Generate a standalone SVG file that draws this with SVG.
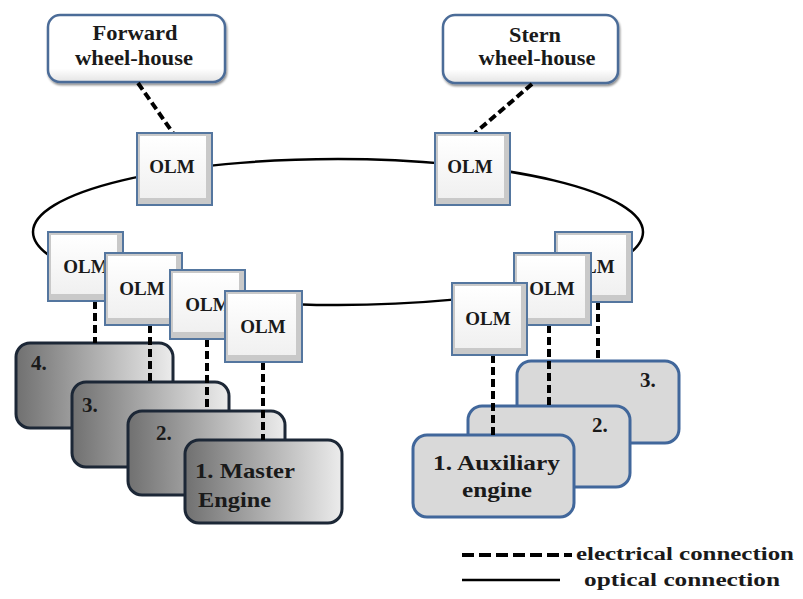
<svg xmlns="http://www.w3.org/2000/svg" width="803" height="599" viewBox="0 0 803 599">
<defs>
<linearGradient id="gDark" x1="0" y1="0" x2="1" y2="0">
<stop offset="0" stop-color="#707070"/><stop offset="1" stop-color="#ececec"/>
</linearGradient>
<linearGradient id="gFace" x1="0" y1="0" x2="0" y2="1">
<stop offset="0" stop-color="#ffffff"/><stop offset="1" stop-color="#f0f0f0"/>
</linearGradient>
<linearGradient id="gTop" x1="0" y1="0" x2="0" y2="1">
<stop offset="0" stop-color="#ffffff"/><stop offset="0.8" stop-color="#ffffff"/><stop offset="1" stop-color="#e4e4e4"/>
</linearGradient>
<filter id="sh" x="-10%" y="-10%" width="130%" height="140%">
<feDropShadow dx="1" dy="2" stdDeviation="1.2" flood-color="#000" flood-opacity="0.45"/>
</filter>
</defs>
<style>
text{font-family:"Liberation Serif","Times New Roman",serif;font-weight:bold;fill:#1a1a1a}
.wh{fill:url(#gTop);stroke:#4c6c98;stroke-width:2.5;filter:url(#sh)}
.olmO{fill:#c9c9c9;stroke:#54769f;stroke-width:2}
.olmF{fill:url(#gFace)}
.olmT{font-size:19px;text-anchor:middle}
.eng{fill:url(#gDark);stroke:#1c2736;stroke-width:3}
.aux{fill:#d9d9d9;stroke:#41679b;stroke-width:3}
.et{font-size:21px}
.elec{fill:none;stroke:#000;stroke-width:4;stroke-dasharray:8 4}
.opt{fill:none;stroke:#000;stroke-width:2.5}
.lg{font-size:18px}
</style>

<!-- engine boxes (left, back to front) -->
<g id="engine4"><rect class="eng" x="16" y="343" width="157" height="85" rx="14"/><text class="et" x="31" y="370">4.</text></g>
<g id="engine3"><rect class="eng" x="72" y="382" width="157" height="85" rx="14"/><text class="et" x="82" y="412">3.</text></g>
<g id="engine2"><rect class="eng" x="128" y="411" width="157" height="84" rx="14"/><text class="et" x="156" y="440">2.</text></g>
<g id="engine1"><rect class="eng" x="185" y="440" width="157" height="83" rx="14"/>
<text class="et" x="195" y="478" textLength="100" lengthAdjust="spacingAndGlyphs">1. Master</text>
<text class="et" x="198" y="507" textLength="73" lengthAdjust="spacingAndGlyphs">Engine</text></g>

<!-- auxiliary engine boxes (right, back to front) -->
<g id="aux3"><rect class="aux" x="517" y="361" width="162" height="82" rx="14"/><text class="et" x="640" y="387">3.</text></g>
<g id="aux2"><rect class="aux" x="468" y="406" width="162" height="81" rx="14"/><text class="et" x="592" y="432">2.</text></g>
<g id="aux1"><rect class="aux" x="413" y="435" width="161" height="82" rx="14"/>
<text class="et" x="433" y="470" textLength="127" lengthAdjust="spacingAndGlyphs">1. Auxiliary</text>
<text class="et" x="462" y="497" textLength="70" lengthAdjust="spacingAndGlyphs">engine</text></g>

<!-- wheel-houses -->
<g id="forward"><rect class="wh" x="48" y="15" width="177" height="67" rx="12"/>
<text x="135" y="40" font-size="20" text-anchor="middle" textLength="85" lengthAdjust="spacingAndGlyphs">Forward</text>
<text x="134" y="65" font-size="20" text-anchor="middle" textLength="118" lengthAdjust="spacingAndGlyphs">wheel-house</text></g>
<g id="stern"><rect class="wh" x="443" y="15" width="175" height="68" rx="12"/>
<text x="535" y="42" font-size="20" text-anchor="middle" textLength="52" lengthAdjust="spacingAndGlyphs">Stern</text>
<text x="537" y="65" font-size="20" text-anchor="middle" textLength="117" lengthAdjust="spacingAndGlyphs">wheel-house</text></g>

<!-- connectors -->
<g id="connectors">
<ellipse class="opt" cx="338" cy="232" rx="305" ry="73"/>
<line class="elec" x1="138" y1="83" x2="173" y2="133" stroke-width="5"/>
<line class="elec" x1="532" y1="84" x2="475" y2="133" stroke-width="5"/>
<line class="elec" x1="95" y1="301" x2="95" y2="343"/>
<line class="elec" x1="150" y1="325" x2="150" y2="382"/>
<line class="elec" x1="207" y1="339" x2="207" y2="411"/>
<line class="elec" x1="263" y1="362" x2="263" y2="440"/>
<line class="elec" x1="493" y1="355" x2="493" y2="435"/>
<line class="elec" x1="549" y1="325" x2="549" y2="406"/>
<line class="elec" x1="598" y1="302" x2="598" y2="361"/>
</g>

<!-- OLM modules -->
<g id="olmForward"><rect class="olmO" x="137" y="133" width="75" height="72"/><rect class="olmF" x="140" y="136" width="66" height="62"/><text class="olmT" x="172" y="173">OLM</text></g>
<g id="olmStern"><rect class="olmO" x="435" y="133" width="75" height="72"/><rect class="olmF" x="438" y="136" width="66" height="62"/><text class="olmT" x="470" y="173">OLM</text></g>
<g id="olmL1"><rect class="olmO" x="48" y="232" width="75" height="69"/><rect class="olmF" x="51" y="235" width="66" height="59"/><text class="olmT" x="86" y="273">OLM</text></g>
<g id="olmL2"><rect class="olmO" x="105" y="253" width="77" height="72"/><rect class="olmF" x="108" y="256" width="68" height="62"/><text class="olmT" x="142" y="295">OLM</text></g>
<g id="olmL3"><rect class="olmO" x="170" y="270" width="75" height="69"/><rect class="olmF" x="173" y="273" width="66" height="59"/><text class="olmT" x="208" y="311">OLM</text></g>
<g id="olmL4"><rect class="olmO" x="225" y="291" width="77" height="71"/><rect class="olmF" x="228" y="294" width="68" height="61"/><text class="olmT" x="263" y="333">OLM</text></g>
<g id="olmR3"><rect class="olmO" x="555" y="232" width="77" height="70"/><rect class="olmF" x="558" y="235" width="68" height="60"/><text class="olmT" x="592" y="273">OLM</text></g>
<g id="olmR2"><rect class="olmO" x="514" y="253" width="77" height="72"/><rect class="olmF" x="517" y="256" width="68" height="62"/><text class="olmT" x="552" y="295">OLM</text></g>
<g id="olmR1"><rect class="olmO" x="452" y="283" width="75" height="72"/><rect class="olmF" x="455" y="286" width="66" height="62"/><text class="olmT" x="488" y="325">OLM</text></g>

<!-- legend -->
<g id="legend">
<line x1="462" y1="555" x2="572" y2="555" stroke="#000" stroke-width="4" stroke-dasharray="12 5"/>
<text class="lg" x="576" y="560" textLength="218" lengthAdjust="spacingAndGlyphs">electrical connection</text>
<line x1="462" y1="580" x2="560" y2="580" stroke="#000" stroke-width="2.5"/>
<text class="lg" x="584" y="586" textLength="196" lengthAdjust="spacingAndGlyphs">optical connection</text>
</g>
</svg>
